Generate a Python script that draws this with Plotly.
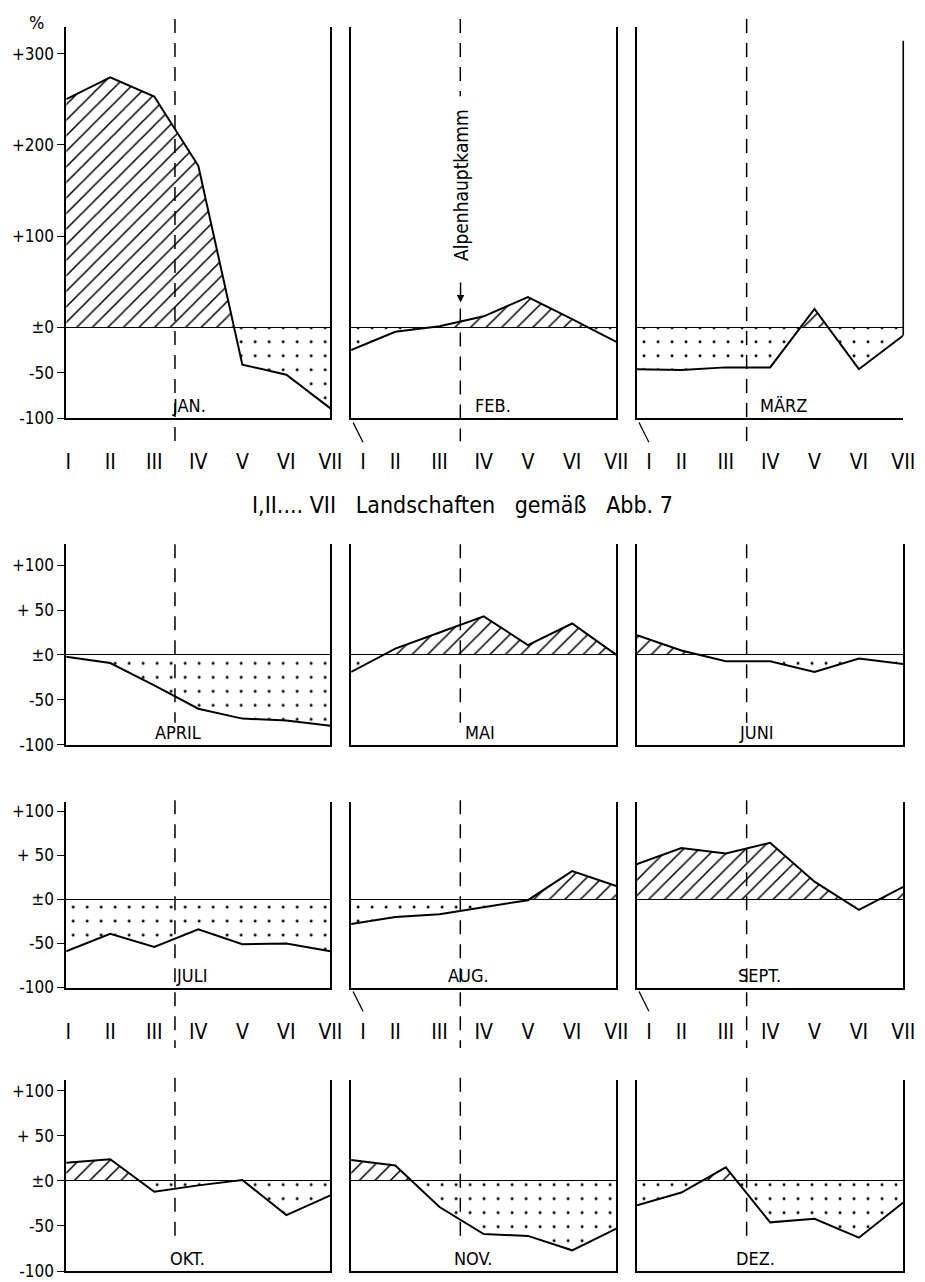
import plotly.graph_objects as go

# ---------------- data (percent deviation per landscape I..VII) ----------------
landscapes = [1, 2, 3, 4, 5, 6, 7]
roman = ["I", "II", "III", "IV", "V", "VI", "VII"]
months = ["JAN.", "FEB.", "MÄRZ", "APRIL", "MAI", "JUNI",
          "JULI", "AUG.", "SEPT.", "OKT.", "NOV.", "DEZ."]

jan = [250, 274, 253, 177, -41, -52, -89]
feb = [-25, -5, 1, 12, 33, 9, -16]
mar = [-46, -47, -44, -44, 20, -46, -9]
apr = [-2, -9, -34, -60, -71, -73, -79]
mai = [-19, 7, 25, 43, 11, 35, 0]
jun = [22, 5, -7, -7, -19, -4, -10]
jul = [-59, -39, -54, -34, -51, -50, -59]
aug = [-28, -20, -17, -9, -1, 32, 15]
sep = [40, 58, 52, 64, 20, -12, 14]
okt = [20, 24, -12, -5, 1, -38, -16]
nov = [23, 17, -29, -59, -61, -77, -53]
dez = [-27, -13, 15, -46, -42, -63, -24]
series = [jan, feb, mar, apr, mai, jun, jul, aug, sep, okt, nov, dez]

ytick_row1 = [300, 200, 100, 0, -50, -100]
ytext_row1 = ["+300", "+200", "+100", "±0", "-50", "-100"]
ytick_rows = [100, 50, 0, -50, -100]
ytext_rows = ["+100", "+ 50", "±0", "-50", "-100"]

ridge_x = 3.47   # Alpenhauptkamm position between III and IV

# ---------------- layout geometry (pixels) ----------------
W, H = 925, 1282
col_px = [(58, 326), (347, 616), (637, 907)]
row_px = [(18, 413), (540, 742), (800, 987), (1080, 1273)]   # top, bottom(-100)
row_scale = [0.92, 0.905, 0.89, 0.91]                           # px per percent
dash_px = [(10, 436), (540, 720), (798, 1048), (1078, 1246)]
label_pos = [3.8, 4.2, 4.3, 3.55, 3.92, 3.7, 3.84, 3.66, 3.75, 3.75, 3.75, 3.67]

FONT = "DejaVu Sans Condensed, Liberation Sans Narrow, DejaVu Sans, sans-serif"

fig = go.Figure()


def split_sign(xs, ys):
    px, py = [], []
    for i in range(len(xs)):
        if i > 0 and ((ys[i - 1] < 0 < ys[i]) or (ys[i - 1] > 0 > ys[i])):
            t = ys[i - 1] / (ys[i - 1] - ys[i])
            px.append(xs[i - 1] + t * (xs[i] - xs[i - 1]))
            py.append(0)
        px.append(xs[i])
        py.append(ys[i])
    return px, [max(v, 0) for v in py], [min(v, 0) for v in py]


shapes = []
annotations = []


def dashed(x, y0, y1):
    shapes.append(dict(type="line", xref="paper", yref="paper",
                       x0=x, x1=x, y0=1 - y0 / H, y1=1 - y1 / H,
                       line=dict(color="black", width=1.5, dash="14px,10px")))


for i, vals in enumerate(series):
    r, c = divmod(i, 3)
    n = i + 1
    xs = "x" if n == 1 else f"x{n}"
    ys = "y" if n == 1 else f"y{n}"
    l, rr = col_px[c]
    top, bot = row_px[r]
    ymax = (bot - top) / row_scale[r] - 100

    px, pos, neg = split_sign(landscapes, vals)
    fig.add_trace(go.Scatter(
        x=px, y=pos, xaxis=xs, yaxis=ys, mode="lines", fill="tozeroy",
        line=dict(width=0, color="black"),
        fillpattern=dict(shape="/", fgcolor="black", bgcolor="rgba(0,0,0,0)",
                         fgopacity=1, size=11, solidity=0.14),
        hoverinfo="skip"))
    fig.add_trace(go.Scatter(
        x=px, y=neg, xaxis=xs, yaxis=ys, mode="lines", fill="tozeroy",
        line=dict(width=0, color="black"),
        fillpattern=dict(shape=".", fgcolor="black", bgcolor="rgba(0,0,0,0)",
                         fgopacity=1, size=14, solidity=0.035),
        hoverinfo="skip"))
    fig.add_trace(go.Scatter(
        x=landscapes, y=vals, xaxis=xs, yaxis=ys, mode="lines",
        line=dict(color="black", width=2)))

    xdom = [l / W, rr / W]
    ydom = [1 - bot / H, 1 - top / H]
    show_x_labels = r in (0, 2)
    tv = list(landscapes)
    tv[0] = 1.05 if c == 0 else 1.27
    xa = dict(domain=xdom, range=[1, 7], anchor=ys, showline=True,
              linecolor="black", linewidth=1.6, showgrid=False, zeroline=False,
              ticks="", tickvals=tv, ticktext=roman,
              showticklabels=show_x_labels, ticklabelstandoff=24,
              tickfont=dict(family=FONT, size=21, color="black"), fixedrange=True)
    ya = dict(domain=ydom, range=[-100, ymax], anchor=xs, showline=True,
              mirror=(n != 3), linecolor="black", linewidth=1.6, showgrid=False,
              zeroline=True, zerolinecolor="black", zerolinewidth=1.4,
              fixedrange=True)
    if c == 0:
        ya.update(tickvals=ytick_row1 if r == 0 else ytick_rows,
                  ticktext=ytext_row1 if r == 0 else ytext_rows,
                  ticks="outside", ticklen=7, tickwidth=1.3, tickcolor="black",
                  tickfont=dict(family=FONT, size=17, color="black"))
    else:
        ya.update(showticklabels=False, ticks="")
    fig.update_layout(**{("xaxis" if n == 1 else f"xaxis{n}"): xa,
                         ("yaxis" if n == 1 else f"yaxis{n}"): ya})

    # month label
    annotations.append(dict(x=label_pos[i], y=-100, xref=xs, yref=ys,
                            text=months[i], showarrow=False, yanchor="bottom",
                            yshift=0,
                            font=dict(family=FONT, size=18, color="black")))

    # dashed Alpenhauptkamm line (interrupted where the label sits in FEB.)
    xd = (l + (ridge_x - 1) / 6 * (rr - l)) / W
    d0, d1 = dash_px[r]
    if n == 2:
        dashed(xd, d0, 88)
        dashed(xd, 302, d1)
    else:
        dashed(xd, d0, d1)

    # little slash connecting panel corner to label "I"
    if show_x_labels and c > 0:
        shapes.append(dict(type="line", xref="paper", yref="paper",
                           x0=(l + 2) / W, x1=(l + 12) / W,
                           y0=1 - (bot + 4) / H, y1=1 - (bot + 24) / H,
                           line=dict(color="black", width=1.3)))

# right border of MÄRZ panel only reaches down to the curve end
l3, r3 = col_px[2]
t1, b1 = row_px[0]
yv = b1 - (mar[-1] + 100) * row_scale[0]
shapes.append(dict(type="line", xref="paper", yref="paper",
                   x0=r3 / W, x1=r3 / W, y0=1 - (t1 + 14) / H, y1=1 - yv / H,
                   line=dict(color="black", width=1.6)))

# % label
annotations.append(dict(x=28 / W, y=1 - 14 / H, xref="paper", yref="paper",
                        text="%", showarrow=False, xanchor="center",
                        yanchor="middle",
                        font=dict(family=FONT, size=18, color="black")))
# title
annotations.append(dict(x=460 / W, y=1 - 500 / H, xref="paper", yref="paper",
                        text="I,II.... VII\u00a0\u00a0 Landschaften\u00a0\u00a0 gemäß\u00a0\u00a0 Abb. 7",
                        showarrow=False, xanchor="center", yanchor="middle",
                        font=dict(family=FONT, size=23, color="black")))
# Alpenhauptkamm label + arrow
annotations.append(dict(x=459 / W, y=1 - 178 / H, xref="paper", yref="paper",
                        text="Alpenhauptkamm", textangle=-90, showarrow=False,
                        xanchor="center", yanchor="middle",
                        font=dict(family=FONT, size=19, color="black")))
annotations.append(dict(x=458 / W, y=1 - 296 / H, xref="paper", yref="paper",
                        text=" ", showarrow=True, ax=0, ay=-30,
                        arrowhead=2, arrowsize=1, arrowwidth=1.5,
                        arrowcolor="black"))

fig.update_layout(width=W, height=H, margin=dict(l=0, r=0, t=0, b=0),
                  paper_bgcolor="white", plot_bgcolor="white",
                  showlegend=False, shapes=shapes, annotations=annotations)

fig.write_html("out.html")
